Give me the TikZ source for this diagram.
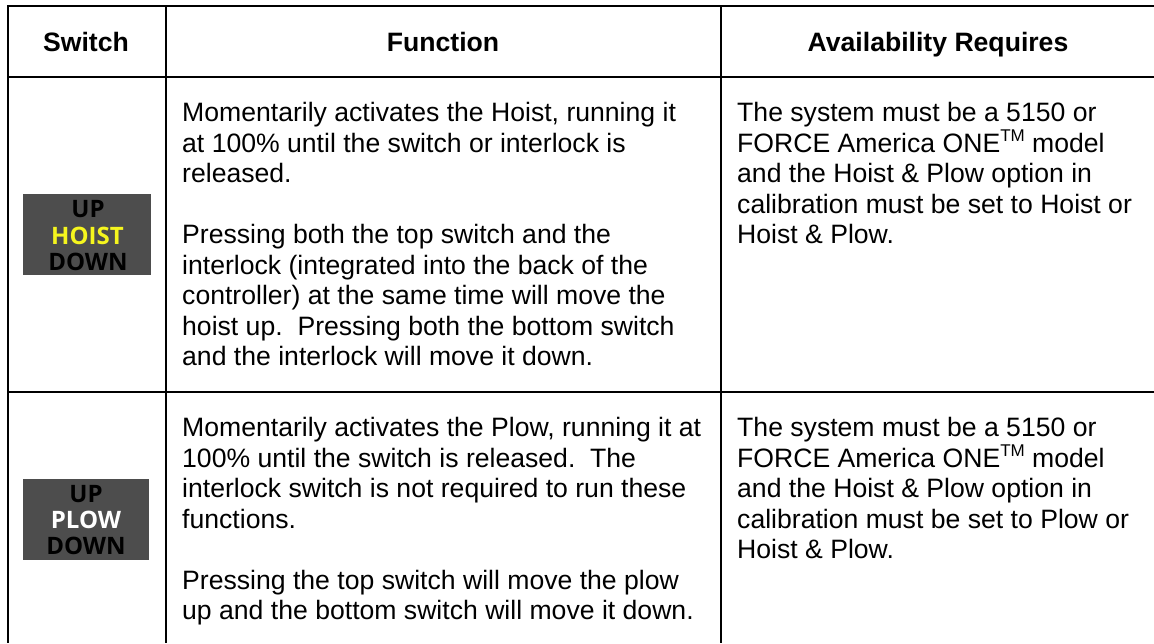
\documentclass[tikz,border=0pt]{standalone}
\usepackage{fontspec}
\setmainfont{Liberation Sans}
\newfontfamily\btnfont{Open Sans}
\newcommand{\tmk}{\raisebox{0.40em}{\fontsize{17}{17}\selectfont TM}}
\definecolor{btngray}{HTML}{4D4D4D}
\definecolor{btnyellow}{HTML}{F5F51E}
\tikzset{
  x=1pt,y=-1pt,
  rule/.style={line width=2pt,black},
  head/.style={font=\fontsize{26.6}{26.6}\selectfont\bfseries,inner sep=0pt,anchor=base},
  cell/.style={font=\fontsize{26.6}{30.5}\selectfont,inner sep=0pt,anchor=north west,align=left},
  btn/.style={fill=btngray,draw=none,inner sep=0pt,anchor=north west},
  btntext/.style={font=\btnfont\fontsize{24}{25}\selectfont\bfseries,inner sep=0pt}
}
\begin{document}
\begin{tikzpicture}
\useasboundingbox (0,0) rectangle (1154,643);
\fill[white] (0,0) rectangle (1154,643);
% rules
\draw[rule] (7,6) -- (1154,6);
\draw[rule] (7,77) -- (1154,77);
\draw[rule] (7,392) -- (1154,392);
\draw[rule] (8,5) -- (8,643);
\draw[rule] (165.5,5) -- (165.5,643);
\draw[rule] (721,5) -- (721,643);
% header
\node[head] (h1) at (86,51) {Switch};
\node[head] (h2) at (443,51) {Function};
\node[head] (h3) at (938,51) {Availability Requires};
% row 1
\node[cell] (f1) at (182,102.3) {Momentarily activates the Hoist, running it\\at 100\% until the switch or interlock is\\released.\\[30.5pt]Pressing both the top switch and the\\interlock (integrated into the back of the\\controller) at the same time will move the\\hoist up.\ \ Pressing both the bottom switch\\and the interlock will move it down.};
\node[cell] (a1) at (737,102.3) {The system must be a 5150 or\\FORCE America ONE\tmk{} model\\and the Hoist \& Plow option in\\calibration must be set to Hoist or\\Hoist \& Plow.};
% row 2
\node[cell] (f2) at (182,417.5) {Momentarily activates the Plow, running it at\\100\% until the switch is released.\ \ The\\interlock switch is not required to run these\\functions.\\[30.5pt]Pressing the top switch will move the plow\\up and the bottom switch will move it down.};
\node[cell] (a2) at (737,417.5) {The system must be a 5150 or\\FORCE America ONE\tmk{} model\\and the Hoist \& Plow option in\\calibration must be set to Plow or\\Hoist \& Plow.};
% switch images
\node[btn,minimum width=128pt,minimum height=81pt] (b1) at (23,194) {};
\node[btntext,black] (b1u) at (88,209) {UP};
\node[btntext,btnyellow] (b1m) at (87.5,235.5) {HOIST};
\node[btntext,black] (b1d) at (88,261.5) {DOWN};
\node[btn,minimum width=126pt,minimum height=81pt] (b2) at (23,479) {};
\node[btntext,black] (b2u) at (86,494) {UP};
\node[btntext,white] (b2m) at (86,520) {PLOW};
\node[btntext,black] (b2d) at (86,546) {DOWN};
\end{tikzpicture}
\end{document}
